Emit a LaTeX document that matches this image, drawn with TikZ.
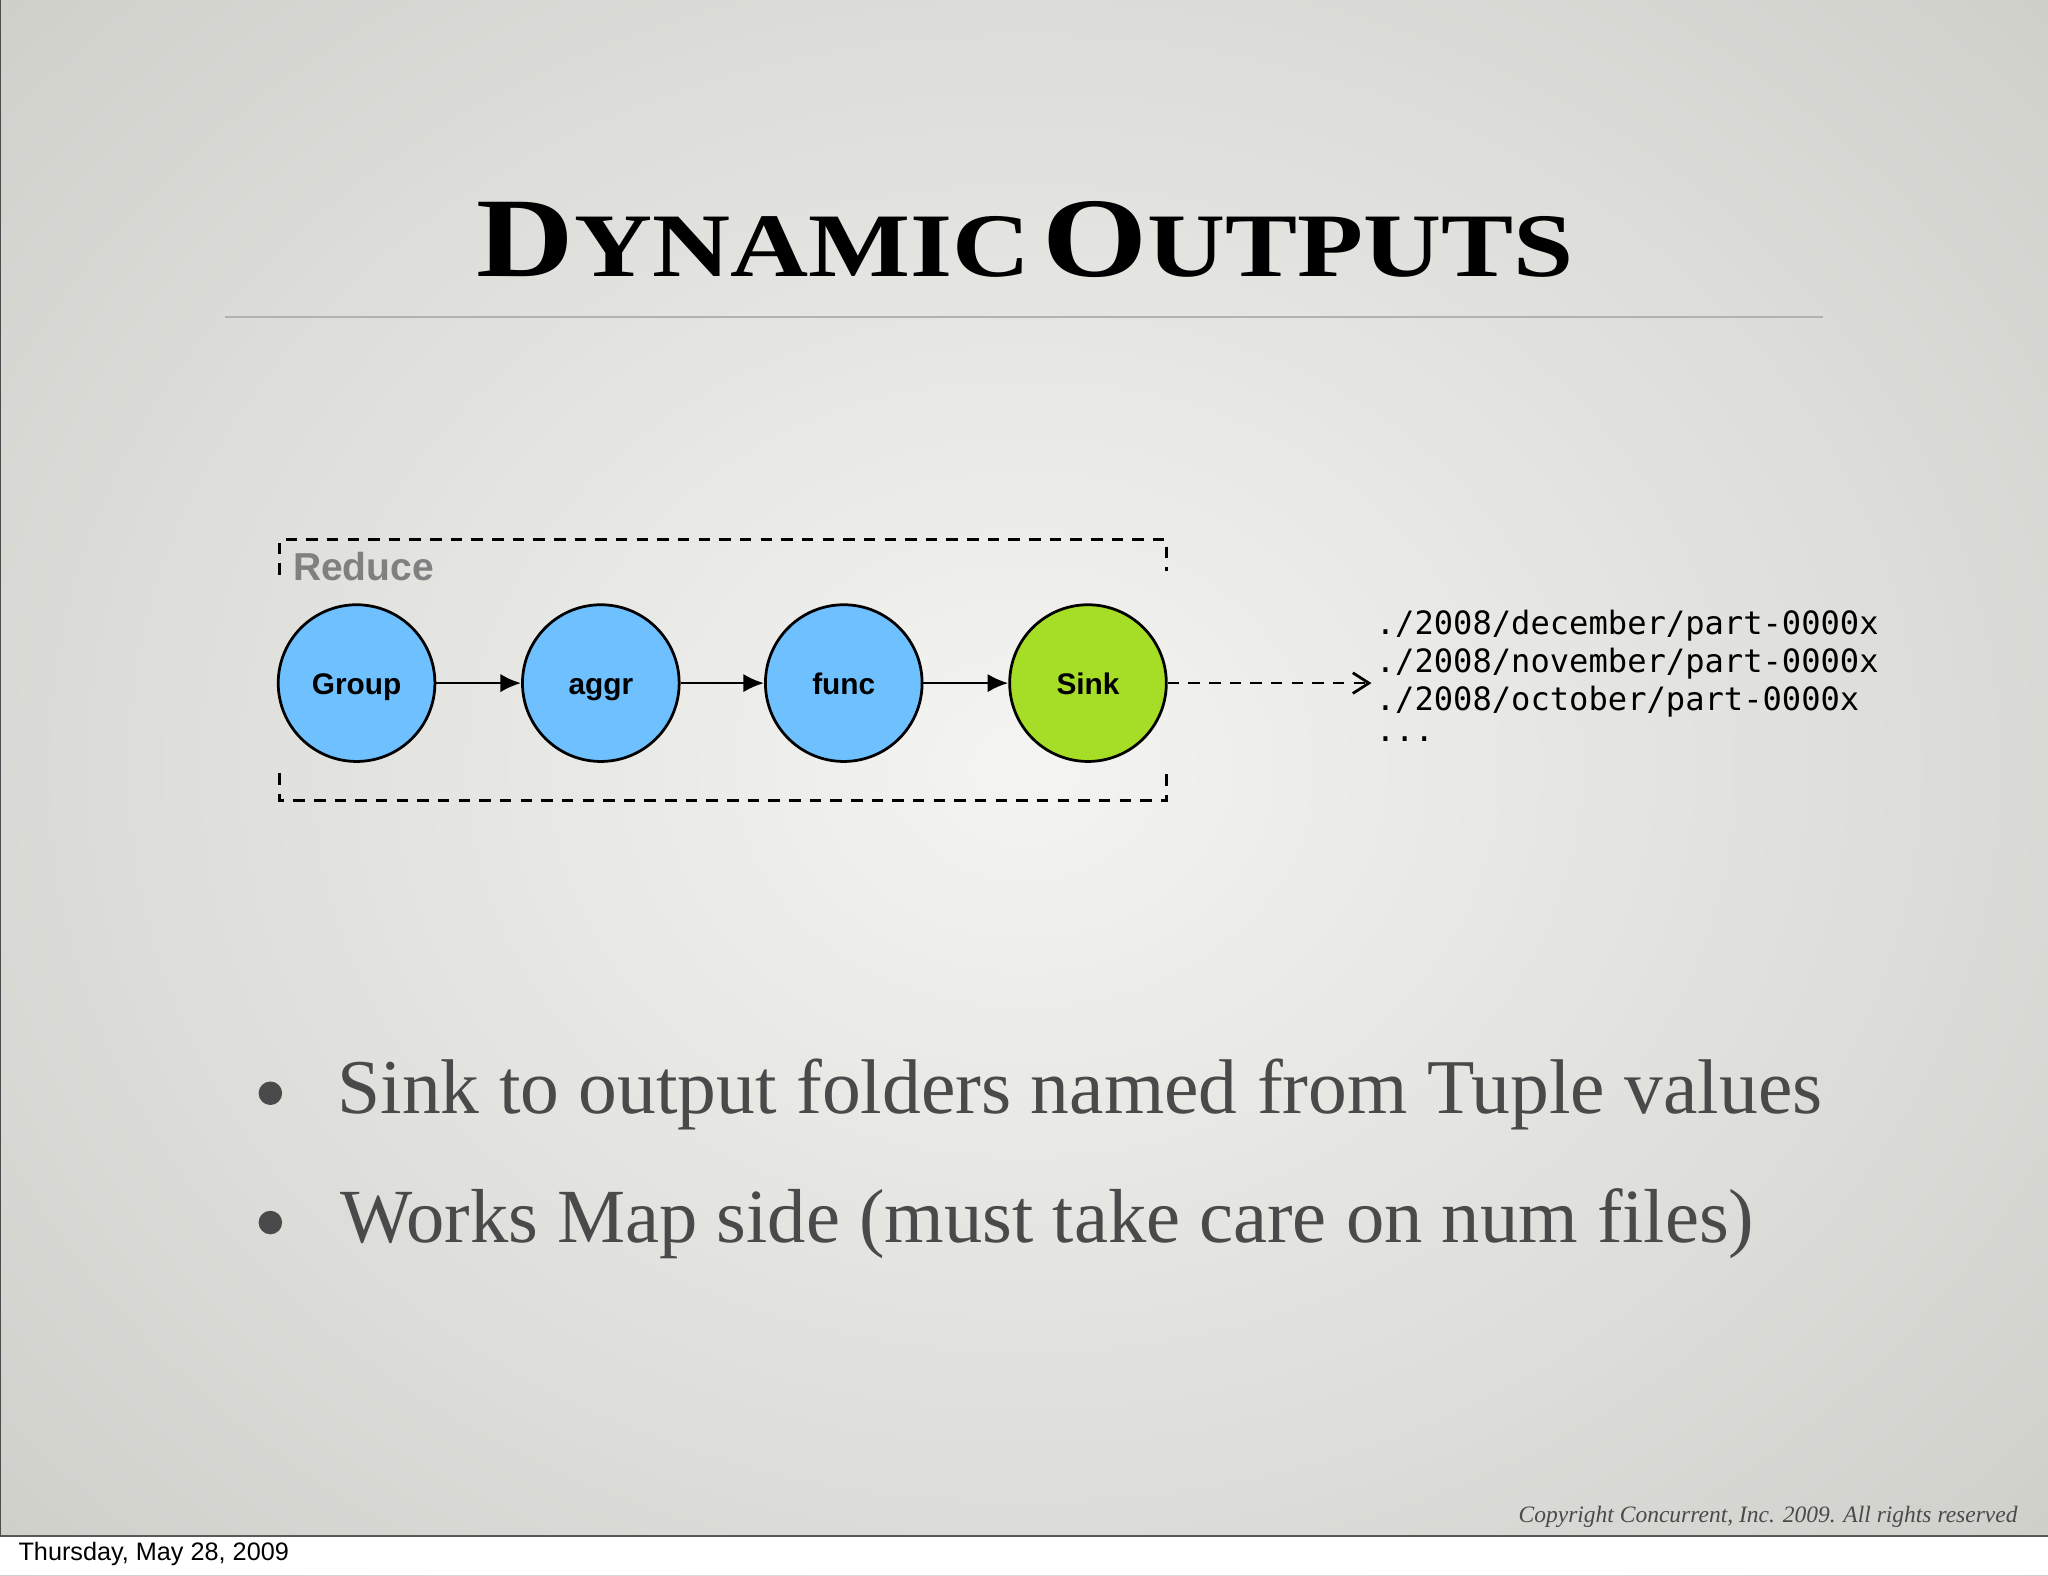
\documentclass[tikz,border=0pt]{standalone}
\usepackage{fontspec}
\usepackage{graphicx}
\setmainfont{Liberation Serif}
\setsansfont{Liberation Sans}
\newfontfamily\monof{DejaVu Sans Mono}
\usetikzlibrary{arrows.meta}
\definecolor{nodeblue}{HTML}{6EC0FF}
\definecolor{nodegreen}{HTML}{A6DD27}
\definecolor{bodytext}{HTML}{4A4A4A}
\definecolor{bgin}{HTML}{F4F4F2}
\definecolor{bgmid}{HTML}{E6E6E3}
\definecolor{bgout}{HTML}{CFCFCA}
\tikzset{
  op/.style={circle,draw=black,line width=1.2pt,minimum size=2.4cm,inner sep=0pt,text height=10.5pt,text depth=1pt,font=\sffamily\bfseries\fontsize{13}{15}\selectfont},
  flow/.style={line width=1.2pt,-{Latex[length=9pt,width=8pt]}},
  dash box/.style={line width=1.2pt,dash pattern=on 5pt off 4pt},
  pathtxt/.style={anchor=west,font=\monof\fontsize{14}{16}\selectfont,inner sep=0pt},
  bullettxt/.style={anchor=west,inner sep=0pt,text=bodytext}
}
\newcommand{\tbig}[1]{{\fontsize{45}{50}\selectfont #1}}
\newcommand{\tsml}[1]{{\fontsize{36}{40}\selectfont #1}}
\begin{document}
\begin{tikzpicture}[x=0.02cm,y=-0.02cm]
\useasboundingbox (0,0) rectangle (1568,1206);
\shade[shading=radial, inner color=bgin, outer color=bgout] (-300,-300) rectangle (1868,1476);
\fill[white] (0,1176) rectangle (1568,1206);
\draw[gray!70!black,line width=0.8pt] (0,1176) -- (1568,1176);
\draw[gray!60!black,line width=0.6pt] (0.5,0) -- (0.5,1176);
\node[anchor=west,font=\sffamily\fontsize{11}{13}\selectfont] (date) at (8,1190) {Thursday, May 28, 2009};
\node (title) at (785,183) {\resizebox{16.8cm}{1.15cm}{\bfseries\tbig{D}\tsml{YNAMIC}\hspace{0.4em}\tbig{O}\tsml{UTPUTS}}};
\draw[gray!60,line width=0.8pt] (172,243) -- (1396,243);
% dashed box
\draw[dash box] (214,440) -- (214,413) -- (893,413) -- (893,437);
\draw[dash box] (214,592) -- (214,613) -- (893,613) -- (893,590);
\node[anchor=west,inner sep=0pt,text=gray,font=\sffamily\bfseries\fontsize{17}{19}\selectfont] (red) at (224,434) {Reduce};
\node[op,fill=nodeblue] (g) at (273,523) {Group};
\node[op,fill=nodeblue] (a) at (460,523) {aggr};
\node[op,fill=nodeblue] (f) at (646,523) {func};
\node[op,fill=nodegreen] (s) at (833,523) {Sink};
\draw[flow] (g) -- (a);
\draw[flow] (a) -- (f);
\draw[flow] (f) -- (s);
\coordinate (out) at (1050,523);
\draw[dash box,-{Straight Barb[length=7pt,width=9pt]}] (s) -- (out);
\node[pathtxt] (p1) at (1053,479) {./2008/december/part-0000x};
\node[pathtxt] (p2) at (1053,508) {./2008/november/part-0000x};
\node[pathtxt] (p3) at (1053,537) {./2008/october/part-0000x};
\node[pathtxt] (p4) at (1053,566) {...};
\fill[bodytext] (207,837) circle (9);
\fill[bodytext] (207,936) circle (9);
\node[bullettxt] (b1) at (258,838) {\resizebox{22.74cm}{!}{Sink to output folders named from Tuple values}};
\node[bullettxt] (b2) at (260,937) {\resizebox{21.66cm}{!}{Works Map side (must take care on num files)}};
\node[anchor=east,inner sep=0pt,text=bodytext] (copy) at (1545,1161) {\resizebox{7.64cm}{!}{\itshape Copyright Concurrent, Inc. 2009. All rights reserved}};
\end{tikzpicture}
\end{document}
